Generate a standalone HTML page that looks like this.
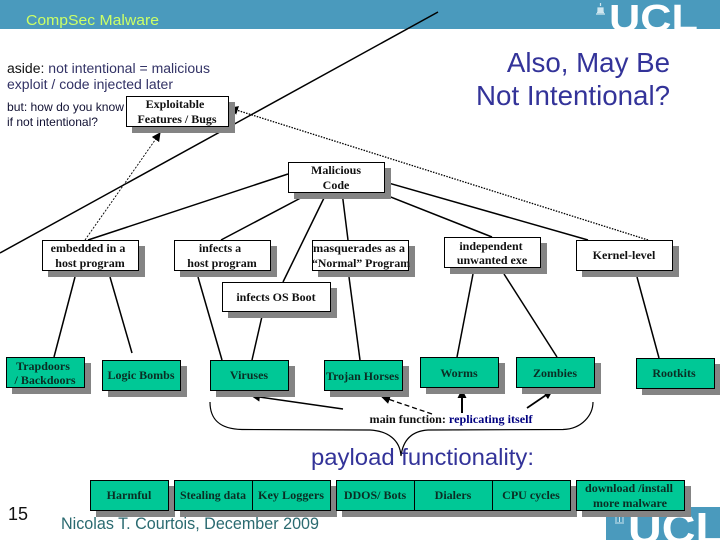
<!DOCTYPE html>
<html><head><meta charset="utf-8"><style>
html,body{margin:0;padding:0;background:#fff;width:720px;height:540px;overflow:hidden}
svg{display:block}
.s{font-family:"Liberation Sans",sans-serif}
.b{font-family:"Liberation Serif",serif;font-weight:bold;font-size:12px;fill:#111;text-anchor:middle}
.g{font-family:"Liberation Serif",serif;font-weight:bold;font-size:12px;fill:#0a2e24;text-anchor:middle}
.l{stroke:#000;stroke-width:1.5;fill:none}
.w{fill:#fff;stroke:#000;stroke-width:1}
.t{fill:#00c896;stroke:#000;stroke-width:1}
.h{fill:#848484}
</style></head><body>
<svg width="720" height="540" viewBox="0 0 720 540" xmlns="http://www.w3.org/2000/svg">
<defs>
<marker id="a" markerWidth="9" markerHeight="9" refX="8" refY="4.500" orient="auto" markerUnits="userSpaceOnUse"><path d="M0 0L9 4.500L0 9z" fill="#000"/></marker>
</defs>
<rect x="0" y="0" width="720" height="29" fill="#4a9abd"/>
<text class="s" x="26" y="25" font-size="15" fill="#ccff66" textLength="133" lengthAdjust="spacingAndGlyphs">CompSec Malware</text>
<text class="s" x="609" y="31" font-size="38" font-weight="bold" fill="#fff" textLength="89" lengthAdjust="spacingAndGlyphs">UCL</text>
<path d="M596 14h9M597 12.500h7M598 8h5v4h-5zM600.500 3v3" stroke="#cfe6ef" stroke-width="1.200" fill="#cfe6ef"/>

<text class="s" x="670" y="72" font-size="27.700" fill="#333399" text-anchor="end">Also, May Be</text>
<text class="s" x="670" y="105" font-size="27.700" fill="#333399" text-anchor="end">Not Intentional?</text>

<text class="s" x="7" y="73" font-size="13.500" fill="#333366" textLength="203" lengthAdjust="spacingAndGlyphs"><tspan fill="#111">aside:</tspan> not intentional = malicious</text>
<text class="s" x="7" y="89" font-size="13.500" fill="#333366" textLength="166" lengthAdjust="spacingAndGlyphs">exploit / code injected later</text>
<text class="s" x="7" y="111" font-size="12" fill="#111133" textLength="117" lengthAdjust="spacingAndGlyphs">but: how do you know</text>
<text class="s" x="7" y="126" font-size="12" fill="#111133" textLength="91" lengthAdjust="spacingAndGlyphs">if not intentional?</text>

<!-- bottom logo -->
<rect x="606" y="507" width="114" height="33" fill="#4a9abd"/>
<text class="s" x="628" y="543" font-size="44" font-weight="bold" fill="#fff" textLength="96" lengthAdjust="spacingAndGlyphs">UCL</text>
<path d="M615 523h9M616 522v-5M619.500 522v-5M623 522v-5M615 516h9" stroke="#cfe6ef" stroke-width="1" fill="none"/>

<!-- connectors -->
<g class="l">
<path d="M0 253L438 12" stroke-width="1.500"/>
<path d="M288 174L88 240"/>
<path d="M312 192L221 240"/>
<path d="M324 198L283 282"/>
<path d="M342 192L348 240"/>
<path d="M378 180L588 240"/>
<path d="M378 192L492 237"/>
<path d="M75 277L54 357"/>
<path d="M110 277L132 353"/>
<path d="M198 277L222 360"/>
<path d="M263 312L252 360"/>
<path d="M349 277L360 360"/>
<path d="M473 274L457 357"/>
<path d="M504 274L557 357"/>
<path d="M637 277L659 358"/>
</g>
<path d="M648 240L230 108" stroke="#000" stroke-width="1.300" stroke-dasharray="1.500 1.300" fill="none" marker-end="url(#a)"/>
<path d="M85 240L160 133" stroke="#000" stroke-width="0.900" stroke-dasharray="2 1.500" fill="none" marker-end="url(#a)"/>

<!-- arrows -->
<path d="M343 409L252 396" class="l" marker-end="url(#a)"/>
<path d="M432 414L382 397" stroke="#000" stroke-width="1.300" stroke-dasharray="5 3" fill="none" marker-end="url(#a)"/>
<path d="M462 413L462 390" stroke="#000" stroke-width="2" fill="none" marker-end="url(#a)"/>
<path d="M527 408L552 391" stroke="#000" stroke-width="1.700" fill="none" marker-end="url(#a)"/>

<!-- brace -->
<path d="M210 402C210 418 218 429 242 429.500L370 430C388 431 400 440 401 456C403 440 412 431 428 430L563 429.500C582 429 593 415 593 402" stroke="#000" stroke-width="1.200" fill="none"/>

<!-- white boxes -->
<rect class="h" x="132" y="102" width="103" height="31"/><rect class="w" x="126.500" y="96.500" width="102" height="30"/>
<text class="b" x="175" y="108">Exploitable</text><text class="b" x="177" y="123">Features / Bugs</text>
<rect class="h" x="294" y="168" width="97" height="31"/><rect class="w" x="288.500" y="162.500" width="96" height="30"/>
<text class="b" x="336" y="174">Malicious</text><text class="b" x="336" y="189">Code</text>
<rect class="h" x="48" y="246" width="97" height="31"/><rect class="w" x="42.500" y="240.500" width="96" height="30"/>
<text class="b" x="88" y="252">embedded in a</text><text class="b" x="90" y="267">host program</text>
<rect class="h" x="180" y="246" width="97" height="31"/><rect class="w" x="174.500" y="240.500" width="96" height="30"/>
<text class="b" x="220" y="252">infects a</text><text class="b" x="222" y="267">host program</text>
<rect class="h" x="318" y="246" width="97" height="31"/><rect class="w" x="312.500" y="240.500" width="96" height="30"/>
<text class="b" x="359" y="252" textLength="92" lengthAdjust="spacingAndGlyphs">masquerades as a</text><text class="b" x="361" y="267" textLength="98" lengthAdjust="spacingAndGlyphs">“Normal” Program</text>
<rect class="h" x="450" y="243" width="97" height="31"/><rect class="w" x="444.500" y="237.500" width="96" height="30"/>
<text class="b" x="491" y="250">independent</text><text class="b" x="492" y="264">unwanted exe</text>
<rect class="h" x="582" y="246" width="97" height="31"/><rect class="w" x="576.500" y="240.500" width="96" height="30"/>
<text class="b" x="624" y="259">Kernel-level</text>
<rect class="h" x="228" y="288" width="109" height="30"/><rect class="w" x="222.500" y="282.500" width="108" height="29"/>
<text class="b" x="276" y="301">infects OS Boot</text>

<!-- teal boxes -->
<rect class="h" x="12" y="363" width="79" height="31"/><rect class="t" x="6.500" y="357.500" width="78" height="30"/>
<text class="g" x="43" y="370">Trapdoors</text><text class="g" x="45" y="384">/ Backdoors</text>
<rect class="h" x="108" y="366" width="79" height="31"/><rect class="t" x="102.500" y="360.500" width="78" height="30"/>
<text class="g" x="141" y="379">Logic Bombs</text>
<rect class="h" x="216" y="366" width="79" height="31"/><rect class="t" x="210.500" y="360.500" width="78" height="30"/>
<text class="g" x="249" y="379">Viruses</text>
<rect class="h" x="330" y="366" width="79" height="31"/><rect class="t" x="324.500" y="360.500" width="78" height="30"/>
<text class="g" x="326" y="380" style="text-anchor:start" textLength="73" lengthAdjust="spacingAndGlyphs">Trojan Horses</text>
<rect class="h" x="426" y="363" width="79" height="31"/><rect class="t" x="420.500" y="357.500" width="78" height="30"/>
<text class="g" x="459" y="377">Worms</text>
<rect class="h" x="522" y="363" width="79" height="31"/><rect class="t" x="516.500" y="357.500" width="78" height="30"/>
<text class="g" x="555" y="377">Zombies</text>
<rect class="h" x="642" y="364" width="79" height="31"/><rect class="t" x="636.500" y="358.500" width="78" height="30"/>
<text class="g" x="674" y="377">Rootkits</text>

<text x="451" y="423" font-family="Liberation Serif,serif" font-weight="bold" font-size="11.500" text-anchor="middle" fill="#111" textLength="163" lengthAdjust="spacingAndGlyphs">main function: <tspan fill="#000080">replicating itself</tspan></text>
<text class="s" x="311" y="465" font-size="23" fill="#333399" textLength="223" lengthAdjust="spacingAndGlyphs">payload functionality:</text>

<!-- bottom row -->
<rect class="h" x="96" y="486" width="79" height="31"/><rect class="t" x="90.500" y="480.500" width="78" height="30"/>
<text class="g" x="129" y="499">Harmful</text>
<rect class="h" x="180" y="486" width="157" height="31"/><rect class="t" x="174.500" y="480.500" width="78" height="30"/><rect class="t" x="252.500" y="480.500" width="78" height="30"/>
<text class="g" x="213" y="499" textLength="66" lengthAdjust="spacingAndGlyphs">Stealing data</text><text class="g" x="291" y="499" textLength="66" lengthAdjust="spacingAndGlyphs">Key Loggers</text>
<rect class="h" x="342" y="486" width="235" height="31"/><rect class="t" x="336.500" y="480.500" width="78" height="30"/><rect class="t" x="414.500" y="480.500" width="78" height="30"/><rect class="t" x="492.500" y="480.500" width="78" height="30"/>
<text class="g" x="375" y="499">DDOS/ Bots</text><text class="g" x="453" y="499">Dialers</text><text class="g" x="531" y="499">CPU cycles</text>
<rect class="h" x="582" y="486" width="109" height="31"/><rect class="t" x="576.500" y="480.500" width="108" height="30"/>
<text class="g" x="629" y="492" textLength="88" lengthAdjust="spacingAndGlyphs">download /install</text><text class="g" x="630" y="507" textLength="74" lengthAdjust="spacingAndGlyphs">more malware</text>

<text class="s" x="8" y="520" font-size="18" fill="#111">15</text>
<text class="s" x="61" y="529" font-size="16.500" fill="#2a6a70" textLength="258" lengthAdjust="spacingAndGlyphs">Nicolas T. Courtois, December 2009</text>
</svg>
</body></html>
